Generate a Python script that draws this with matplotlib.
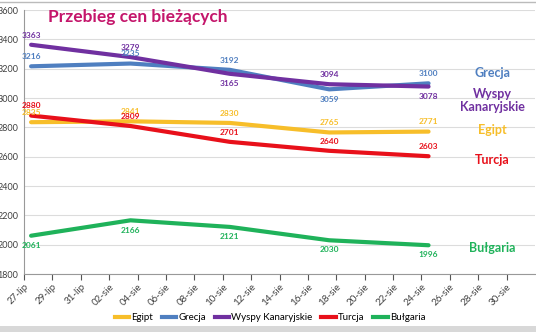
import matplotlib
matplotlib.use("Agg")
import matplotlib.pyplot as plt
from matplotlib.lines import Line2D
from matplotlib.patches import Rectangle

# ---- data ----
tick_labels = ['27-lip', '29-lip', '31-lip', '02-sie', '04-sie', '06-sie', '08-sie', '10-sie',
               '12-sie', '14-sie', '16-sie', '18-sie', '20-sie', '22-sie', '24-sie', '26-sie',
               '28-sie', '30-sie']
tick_days = [0, 2, 4, 6, 8, 10, 12, 14, 16, 18, 20, 22, 24, 26, 28, 30, 32, 34]
point_days = [0, 7, 14, 21, 28]   # 27-lip, 03-sie, 10-sie, 17-sie, 24-sie

series_names = ['Egipt', 'Grecja', 'Wyspy Kanaryjskie', 'Turcja', 'Bułgaria']
egipt = [2835, 2841, 2830, 2765, 2771]
grecja = [3216, 3235, 3192, 3059, 3100]
wyspy = [3363, 3279, 3165, 3094, 3078]
turcja = [2880, 2809, 2701, 2640, 2603]
bulgaria = [2061, 2166, 2121, 2030, 1996]

# label placement: +1 above, -1 below
egipt_pos = [1, 1, 1, 1, 1]
grecja_pos = [1, 1, 1, -1, 1]
wyspy_pos = [1, 1, -1, 1, -1]
turcja_pos = [1, 1, 1, 1, 1]
bulgaria_pos = [-1, -1, -1, -1, -1]

colors = ['#F7BE2A', '#4F7FC0', '#7030A0', '#E8101A', '#1FB25A']
right_labels = ['Egipt', 'Grecja', 'Wyspy\nKanaryjskie', 'Turcja', 'Bułgaria']
right_label_y = [2782, 3171, 2980, 2577, 1978]

plt.rcParams['font.family'] = ['Lato', 'DejaVu Sans']

fig = plt.figure(figsize=(5.36, 3.32), dpi=100)
ax = fig.add_axes([24/536, 1 - 274/332, 511/536, 264/332])

xs = [d + 0.5 for d in point_days]
all_series = [egipt, grecja, wyspy, turcja, bulgaria]
all_pos = [egipt_pos, grecja_pos, wyspy_pos, turcja_pos, bulgaria_pos]
order = [4, 0, 3, 1, 2]
for i in order:
    ax.plot(xs, all_series[i], color=colors[i], lw=3.0, solid_capstyle='round',
            solid_joinstyle='round', zorder=3)
for i in range(5):
    for x, v, p in zip(xs, all_series[i], all_pos[i]):
        ax.annotate(str(v), (x, v), xytext=(0, 7 * p), textcoords='offset points',
                    ha='center', va='center', fontsize=6, color=colors[i],
                    fontweight='bold', zorder=4)

ax.set_xlim(0, 36)
ax.set_ylim(1800, 3600)
ax.set_yticks(range(1800, 3601, 200))
ax.set_xticks(tick_days)
ax.set_xticklabels(tick_labels, rotation=45, ha='right', rotation_mode='anchor')
ax.tick_params(axis='x', labelsize=7, colors='#555555', length=4, direction='out',
               labelcolor='#404040', pad=2)
ax.tick_params(axis='y', labelsize=6.5, length=0, labelcolor='#404040', pad=4)
ax.grid(axis='y', color='#DCDCDC', lw=0.8)
ax.set_axisbelow(True)
for s in ['top', 'right']:
    ax.spines[s].set_visible(False)
ax.spines['left'].set_color('#999999')
ax.spines['bottom'].set_color('#999999')

for i in range(5):
    ax.text(33.0, right_label_y[i], right_labels[i], color=colors[i],
            fontsize=9, fontweight='bold', ha='center', va='center', linespacing=1.1)

fig.text(48/536, 1 - 17/332, 'Przebieg cen bieżących', color='#C4166B', fontsize=12.5,
         fontweight='bold', ha='left', va='center')

handles = [Line2D([0], [0], color=colors[i], lw=3) for i in range(5)]
fig.legend(handles, series_names, loc='center', bbox_to_anchor=(270/536, 1 - 318/332),
           ncol=5, frameon=False, fontsize=7, handlelength=1.5, handletextpad=0.2,
           columnspacing=0.9)

fig.add_artist(Line2D([0, 1], [1 - 2/332, 1 - 2/332], color='#BBBBBB', lw=1.0))
fig.add_artist(Rectangle((0, 0), 1, 6/332, color='#D8D8D8', lw=0))

fig.savefig('out.png', dpi=100)
